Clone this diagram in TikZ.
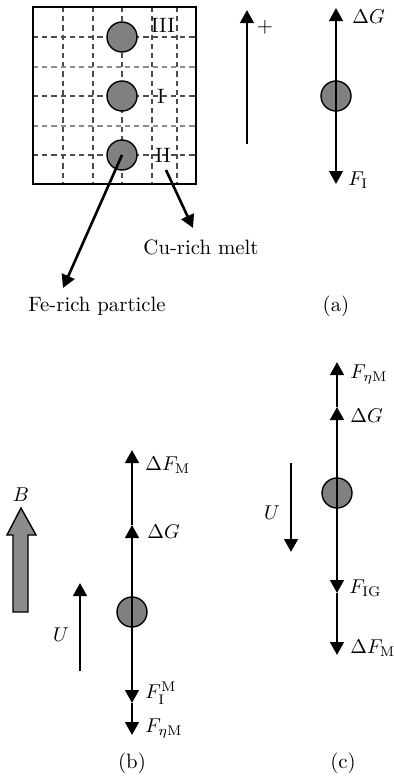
\documentclass[tikz,border=0pt]{standalone}
\usetikzlibrary{arrows.meta}
\begin{document}
\begin{tikzpicture}[x=0.5pt,y=-0.5pt,
    prt/.style={circle,draw,fill=black!50,line width=0.7pt,minimum size=15pt,inner sep=0pt},
    frc/.style={line width=1.3pt,-{Triangle[width=6.8pt,length=6.5pt]}},
    grd/.style={black!70,dash pattern=on 2.6pt off 2pt,line width=0.6pt},
    grdl/.style={grd,black!45},
    lbl/.style={anchor=west,inner sep=0pt},
    every node/.style={font=\fontsize{10.4}{12.5}\selectfont}]
  \useasboundingbox (0,0) rectangle (393,776);
  % (a) the cell with the three particles
  \foreach \gx in {63,93,122,152,177}{ \draw[grd] (\gx,7) -- (\gx,184); }
  \foreach \gy in {37,96,155}{ \draw[grd] (33,\gy) -- (196,\gy); }
  \foreach \gy in {67,126}{ \draw[grdl] (33,\gy) -- (196,\gy); }
  \draw[line width=1pt] (33,7) rectangle (196,184);
  \node[prt] (pIII) at (122,37) {};
  \node[prt] (pI) at (122,96) {};
  \node[prt] (pII) at (122,155) {};
  \node (tIII) at (163,25) {III};
  \node (tI) at (161,96) {I};
  \node (tII) at (163,155) {II};
  \node (fe) at (97,306) {Fe-rich particle};
  \node (cu) at (201,247) {Cu-rich melt};
  \coordinate (feTip) at (63,288);
  \coordinate (cuA) at (166,170);
  \coordinate (cuB) at (193,228);
  \draw[frc] (pII.center) -- (feTip);
  \draw[frc] (cuA) -- (cuB);
  % positive direction and forces on particle II
  \coordinate (plA) at (247,144);
  \coordinate (plB) at (247,10);
  \draw[frc] (plA) -- (plB);
  \node (plus) at (265,27) {+};
  \node[prt] (pa) at (336,96) {};
  \coordinate (aG) at (336,8);
  \coordinate (aFI) at (336,184);
  \draw[frc] (pa.center) -- (aG);
  \draw[frc] (pa.center) -- (aFI);
  \node[lbl] at (352,17) {$\Delta G$};
  \node[lbl] at (348,180) {$F_{\mathrm{I}}$};
  \node (capa) at (336,306) {(a)};
  % (b) field and flow upwards
  \fill[black!45] (13,612) -- (13,535) -- (7,535) -- (21,508) -- (36,535)
        -- (28,535) -- (28,612) -- cycle;
  \draw[line width=0.7pt] (13,612) -- (13,535) -- (7,535) -- (21,508) -- (36,535)
        -- (28,535) -- (28,612) -- cycle;
  \node (tB) at (21,495) {$B$};
  \coordinate (bUA) at (80,671);
  \coordinate (bUB) at (80,583);
  \draw[frc] (bUA) -- (bUB);
  \node (tUb) at (61,635) {$U$};
  \node[prt] (pb) at (132,612) {};
  \coordinate (bG) at (132,525);
  \coordinate (bFM) at (132,450);
  \coordinate (bFI) at (132,703);
  \coordinate (bFe) at (132,735);
  \draw[frc] (pb.center) -- (bG);
  \draw[frc] (bG) -- (bFM);
  \draw[frc] (pb.center) -- (bFI);
  \draw[frc] (bFI) -- (bFe);
  \node[lbl] at (145,465) {$\Delta F_{\mathrm{M}}$};
  \node[lbl] at (147,532) {$\Delta G$};
  \node[lbl] at (145,693) {$F_{\mathrm{I}}^{\mathrm{M}}$};
  \node[lbl] at (145,729) {$F_{\eta\mathrm{M}}$};
  \node (capb) at (132,763) {(b)};
  % (c) flow downwards
  \coordinate (cUA) at (291,463);
  \coordinate (cUB) at (291,552);
  \draw[frc] (cUA) -- (cUB);
  \node (tUc) at (272,513) {$U$};
  \node[prt] (pc) at (337,493) {};
  \coordinate (cG) at (337,407);
  \coordinate (cFe) at (337,362);
  \coordinate (cFIG) at (337,593);
  \coordinate (cFM) at (337,655);
  \draw[frc] (pc.center) -- (cG);
  \draw[frc] (cG) -- (cFe);
  \draw[frc] (pc.center) -- (cFIG);
  \draw[frc] (cFIG) -- (cFM);
  \node[lbl] at (350,375) {$F_{\eta\mathrm{M}}$};
  \node[lbl] at (350,416) {$\Delta G$};
  \node[lbl] at (349,588) {$F_{\mathrm{IG}}$};
  \node[lbl] at (350,648) {$\Delta F_{\mathrm{M}}$};
  \node (capc) at (343,763) {(c)};
\end{tikzpicture}
\end{document}
